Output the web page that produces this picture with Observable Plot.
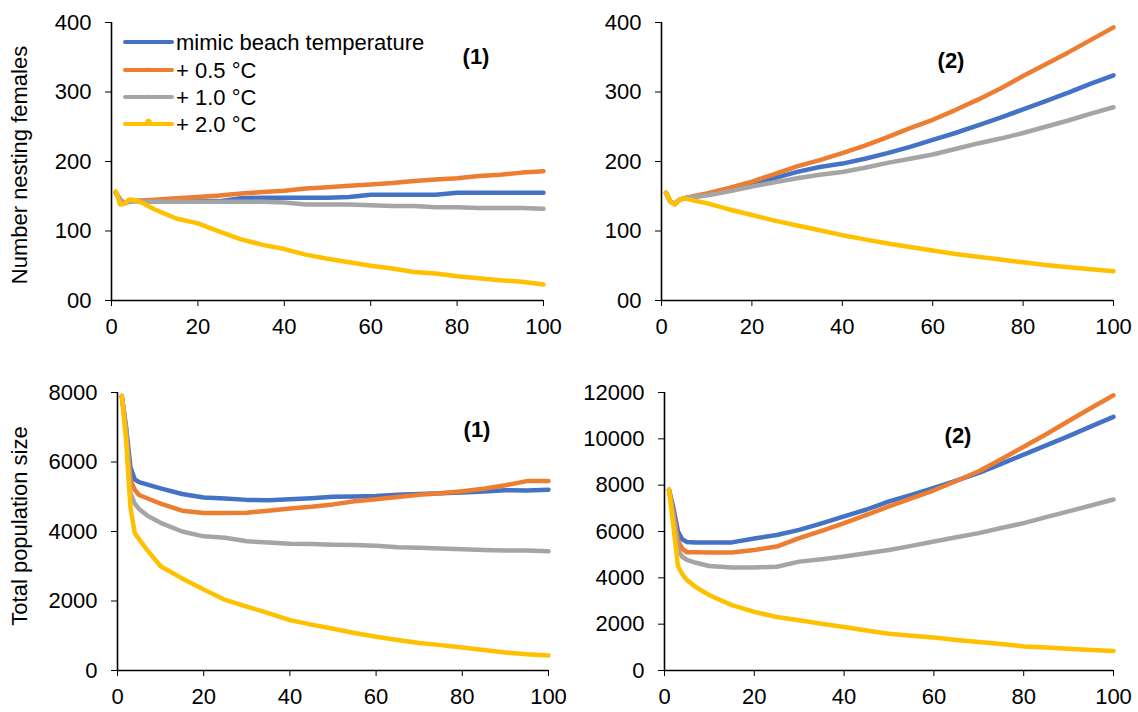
<!DOCTYPE html>
<html><head><meta charset="utf-8">
<script src="https://cdn.jsdelivr.net/npm/d3@7"></script>
<script src="https://cdn.jsdelivr.net/npm/@observablehq/plot@0.6"></script>
<style>
html,body{margin:0;padding:0;background:#fff;}
#wrap{position:relative;width:1138px;height:712px;overflow:hidden;font-family:"Liberation Sans",Arial,sans-serif;color:#000;background:#fff;}
.panel{position:absolute;}
.panel svg{overflow:visible;}
.lbl{position:absolute;font-size:22px;line-height:1;white-space:nowrap;transform:translate(-50%,-50%);}
.bold{font-weight:bold;}
.ytitle{position:absolute;font-size:22px;line-height:1;white-space:nowrap;transform:translate(-50%,-50%) rotate(-90deg);}
#legend{position:absolute;left:0;top:0;}
</style></head><body><div id="wrap"></div>
<script>
// ---------- data ----------
const years = [1,2,3,4,5,7,10,15,20,25,30,35,40,45,50,55,60,65,70,75,80,85,90,95,100];
const seriesNames = ["mimic beach temperature","+ 0.5 °C","+ 1.0 °C","+ 2.0 °C"];
const seriesColors = ["#4472C4","#ED7D31","#A5A5A5","#FFC000"];
const xTicks = [0,20,40,60,80,100];

const nestTicks = [0,100,200,300,400];
const nestTickLabels = ["00","100","200","300","400"];
const popTicks1 = [0,2000,4000,6000,8000];
const popTickLabels1 = ["0","2000","4000","6000","8000"];
const popTicks2 = [0,2000,4000,6000,8000,10000,12000];
const popTickLabels2 = ["0","2000","4000","6000","8000","10000","12000"];

// Number nesting females, scenario (1)
const nest1Mimic = [155,145,140,142,143,143,142,143,143,143,147,148,148,148,148,149,152,152,152,152,155,155,155,155,155];
const nest1Plus05 = [155,145,140,142,143,144,145,147,149,151,154,156,158,161,163,165,167,169,172,174,176,179,181,184,186];
const nest1Plus10 = [155,145,140,142,143,142,142,142,142,142,142,142,141,138,138,138,137,136,136,134,134,133,133,133,132];
const nest1Plus20 = [157,138,139,145,145,141,131,118,111,99,88,80,74,66,60,55,50,46,41,39,35,32,29,27,23];

// Number nesting females, scenario (2)
const nest2Mimic = [155,142,139,145,147,149,152,160,168,176,185,192,197,204,212,221,231,241,252,263,275,287,299,312,324];
const nest2Plus05 = [155,142,139,145,147,150,154,162,171,182,193,202,212,223,235,248,260,274,289,305,323,340,357,375,393];
const nest2Plus10 = [155,142,139,145,147,149,151,157,164,170,176,181,185,191,198,204,210,218,226,233,241,250,259,269,278];
const nest2Plus20 = [155,142,138,145,147,144,140,131,123,115,108,101,94,88,82,77,72,67,63,59,55,51,48,45,42];

// Total population size, scenario (1)
const pop1Mimic = [7900,7000,5850,5500,5420,5350,5240,5080,4980,4950,4910,4900,4930,4960,5000,5010,5020,5060,5080,5100,5120,5150,5190,5180,5200];
const pop1Plus05 = [7900,6900,5500,5200,5050,4950,4800,4600,4530,4530,4540,4600,4660,4710,4780,4870,4930,4990,5060,5100,5160,5230,5330,5450,5450];
const pop1Plus10 = [7900,6900,5100,4800,4650,4450,4250,4000,3860,3820,3720,3680,3650,3640,3620,3610,3590,3550,3530,3510,3490,3470,3450,3450,3430];
const pop1Plus20 = [7900,6600,4700,3950,3780,3450,3000,2650,2330,2030,1840,1650,1450,1320,1200,1080,970,880,790,730,660,590,520,470,430];

// Total population size, scenario (2)
const pop2Mimic = [7800,7000,6000,5650,5550,5530,5520,5530,5700,5850,6070,6350,6650,6950,7300,7580,7880,8200,8530,8920,9320,9720,10120,10540,10950];
const pop2Plus05 = [7800,6800,5600,5250,5100,5100,5090,5090,5200,5350,5710,6030,6360,6720,7080,7430,7780,8180,8600,9120,9660,10200,10770,11330,11880];
const pop2Plus10 = [7800,6600,5200,4900,4780,4650,4510,4450,4450,4480,4700,4800,4920,5060,5200,5380,5570,5750,5930,6150,6360,6620,6870,7120,7380];
const pop2Plus20 = [7800,6200,4500,4150,3900,3600,3250,2820,2530,2310,2170,2020,1880,1730,1590,1500,1420,1320,1230,1140,1040,990,940,890,840];

// ---------- drawing ----------
const wrap = document.getElementById("wrap");

function panel(cfg) {
  const rows = seriesNames.flatMap((name, s) =>
    years.map((yr, i) => ({year: yr, value: cfg.series[s][i], name})));
  const chart = Plot.plot({
    width: cfg.width, height: cfg.height,
    marginLeft: cfg.mL, marginRight: cfg.mR, marginTop: cfg.mT, marginBottom: cfg.mB,
    style: {fontSize: "22px", fontFamily: "'Liberation Sans', Arial, sans-serif", color: "#000", background: "transparent", overflow: "visible"},
    x: {domain: [0, 100], ticks: xTicks, tickFormat: d => String(d), tickSize: 6, tickPadding: 12, label: null},
    y: {domain: [0, cfg.yMax], ticks: cfg.yTicks, tickFormat: d => cfg.yLabels[cfg.yTicks.indexOf(d)], tickSize: 6, tickPadding: 14, label: null},
    color: {domain: seriesNames, range: seriesColors},
    marks: [
      Plot.ruleX([0], {stroke: "#000", strokeWidth: 1.6}),
      Plot.ruleY([0], {stroke: "#000", strokeWidth: 1.6}),
      Plot.line(rows, {x: "year", y: "value", z: "name", stroke: "name", strokeWidth: 4.5, strokeLinejoin: "round", strokeLinecap: "round"})
    ]
  });
  const div = document.createElement("div");
  div.className = "panel";
  div.style.left = cfg.left + "px";
  div.style.top = cfg.top + "px";
  div.appendChild(chart);
  wrap.appendChild(div);
}

panel({left: 0, top: 0, width: 560, height: 345, mL: 111, mR: 17, mT: 22, mB: 45,
  yMax: 400, yTicks: nestTicks, yLabels: nestTickLabels,
  series: [nest1Mimic, nest1Plus05, nest1Plus10, nest1Plus20]});
panel({left: 560, top: 0, width: 578, height: 345, mL: 101, mR: 25, mT: 22, mB: 45,
  yMax: 400, yTicks: nestTicks, yLabels: nestTickLabels,
  series: [nest2Mimic, nest2Plus05, nest2Plus10, nest2Plus20]});
panel({left: 0, top: 360, width: 560, height: 352, mL: 117, mR: 12, mT: 32, mB: 42,
  yMax: 8000, yTicks: popTicks1, yLabels: popTickLabels1,
  series: [pop1Mimic, pop1Plus05, pop1Plus10, pop1Plus20]});
panel({left: 560, top: 360, width: 578, height: 352, mL: 104, mR: 25, mT: 32, mB: 42,
  yMax: 12000, yTicks: popTicks2, yLabels: popTickLabels2,
  series: [pop2Mimic, pop2Plus05, pop2Plus10, pop2Plus20]});

// text labels
function label(text, x, y, cls) {
  const d = document.createElement("div");
  d.className = cls;
  d.style.left = x + "px";
  d.style.top = y + "px";
  d.textContent = text;
  wrap.appendChild(d);
}
label("Number nesting females", 20, 165, "ytitle");
label("Total population size", 20, 526, "ytitle");
label("(1)", 476, 57, "lbl bold");
label("(2)", 951, 61, "lbl bold");
label("(1)", 477, 430, "lbl bold");
label("(2)", 958, 436, "lbl bold");

// legend
const lg = d3.select(wrap).append("svg").attr("id", "legend").attr("width", 1138).attr("height", 712);
const legendY = [42, 70, 97, 124];
seriesNames.forEach((name, i) => {
  const y = legendY[i];
  lg.append("line").attr("x1", 125).attr("x2", 172).attr("y1", y).attr("y2", y)
    .attr("stroke", seriesColors[i]).attr("stroke-width", 4).attr("stroke-linecap", "round");
  if (i === 1 || i === 2) lg.append("circle").attr("cx", 148.5).attr("cy", y - 1).attr("r", 1.6).attr("fill", seriesColors[i]);
  if (i === 3) lg.append("circle").attr("cx", 148.5).attr("cy", y - 2).attr("r", 3.2).attr("fill", seriesColors[i]);
  lg.append("text").attr("x", 176).attr("y", y + 8)
    .attr("font-family", "'Liberation Sans', Arial, sans-serif").attr("font-size", 22).attr("fill", "#000")
    .text(name);
});
</script></body></html>
